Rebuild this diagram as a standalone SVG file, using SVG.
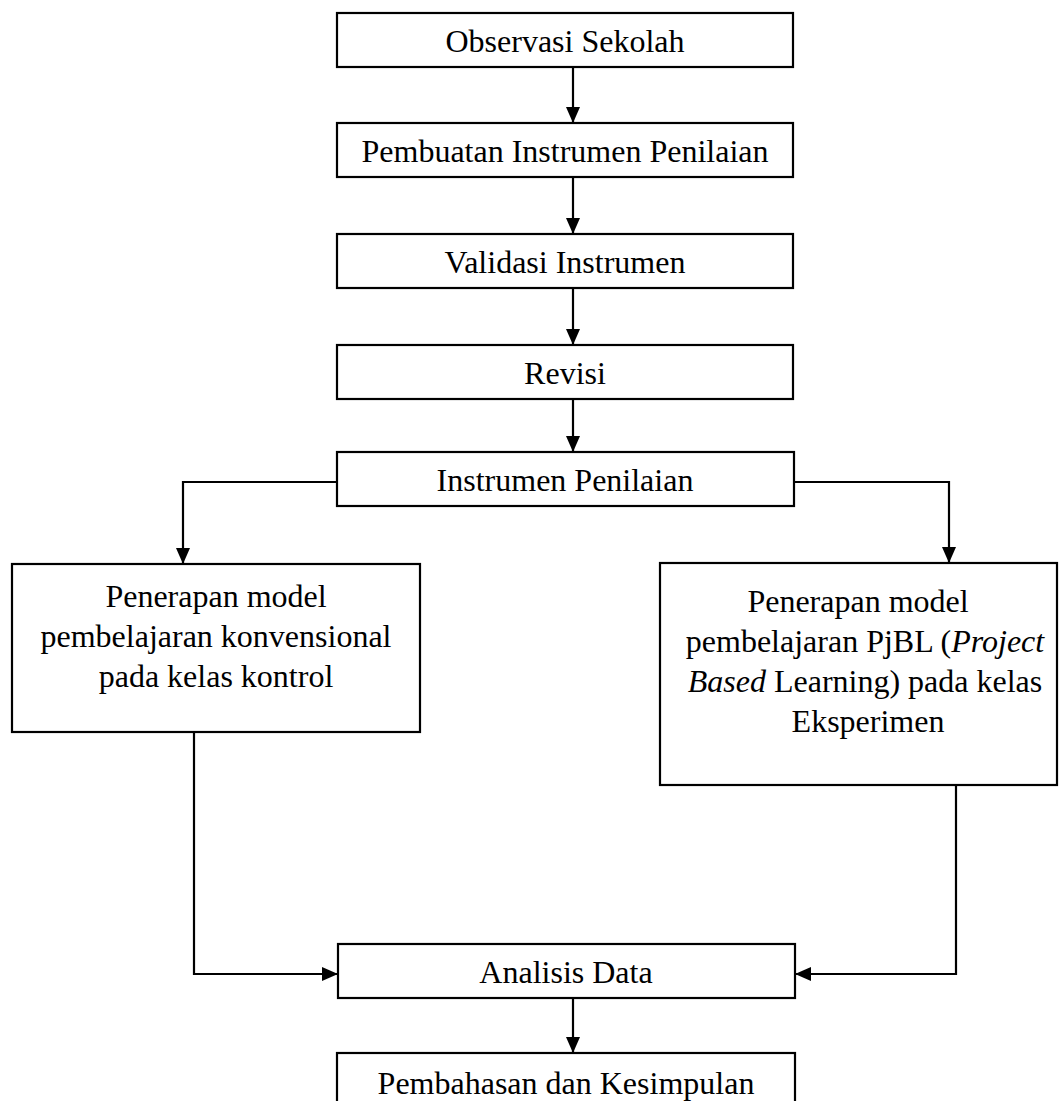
<svg xmlns="http://www.w3.org/2000/svg" width="1059" height="1101" viewBox="0 0 1059 1101">
<style>
.box{fill:#fff;stroke:#000;stroke-width:2.2}
.t{font-family:"Liberation Serif","Times New Roman",serif;font-size:32px;fill:#000;text-anchor:middle}
.c{fill:none;stroke:#000;stroke-width:2.2}
.i{font-style:italic}
</style>
<defs>
<marker id="ah" viewBox="0 0 16 14" refX="16" refY="7" markerWidth="16" markerHeight="14" markerUnits="userSpaceOnUse" orient="auto">
<path d="M0,0 L16,7 L0,14 Z" fill="#000"/>
</marker>
</defs>
<rect width="1059" height="1101" fill="#fff"/>
<g id="connectors">
<path class="c" d="M573,67 V123" marker-end="url(#ah)"/>
<path class="c" d="M573,177 V234" marker-end="url(#ah)"/>
<path class="c" d="M573,288 V345" marker-end="url(#ah)"/>
<path class="c" d="M573,399 V452" marker-end="url(#ah)"/>
<path class="c" d="M337,482 H183 V564" marker-end="url(#ah)"/>
<path class="c" d="M794,482 H949 V563" marker-end="url(#ah)"/>
<path class="c" d="M194,732 V974 H338" marker-end="url(#ah)"/>
<path class="c" d="M956,785 V974 H795" marker-end="url(#ah)"/>
<path class="c" d="M573,998 V1053" marker-end="url(#ah)"/>
</g>
<g id="n1"><rect class="box" x="337" y="13" width="456" height="54"/><text class="t" x="565" y="52">Observasi Sekolah</text></g>
<g id="n2"><rect class="box" x="337" y="123" width="456" height="54"/><text class="t" x="565" y="162">Pembuatan Instrumen Penilaian</text></g>
<g id="n3"><rect class="box" x="337" y="234" width="456" height="54"/><text class="t" x="565" y="273">Validasi Instrumen</text></g>
<g id="n4"><rect class="box" x="337" y="345" width="456" height="54"/><text class="t" x="565" y="384">Revisi</text></g>
<g id="n5"><rect class="box" x="337" y="452" width="457" height="54"/><text class="t" x="565" y="491">Instrumen Penilaian</text></g>
<g id="n6"><rect class="box" x="12" y="564" width="408" height="168"/>
<text class="t" x="216" y="607">Penerapan model</text>
<text class="t" x="216" y="647">pembelajaran konvensional</text>
<text class="t" x="216" y="687">pada kelas kontrol</text></g>
<g id="n7"><rect class="box" x="660" y="563" width="397" height="222"/>
<text class="t" x="858" y="612">Penerapan model</text>
<text class="t" x="865" y="652">pembelajaran PjBL (<tspan class="i">Project</tspan></text>
<text class="t" x="865" y="692"><tspan class="i">Based</tspan> Learning) pada kelas</text>
<text class="t" x="868" y="732">Eksperimen</text></g>
<g id="n8"><rect class="box" x="338" y="944" width="457" height="54"/><text class="t" x="566" y="983">Analisis Data</text></g>
<g id="n9"><rect class="box" x="337" y="1053" width="458" height="60"/><text class="t" x="566" y="1094">Pembahasan dan Kesimpulan</text></g>
</svg>
